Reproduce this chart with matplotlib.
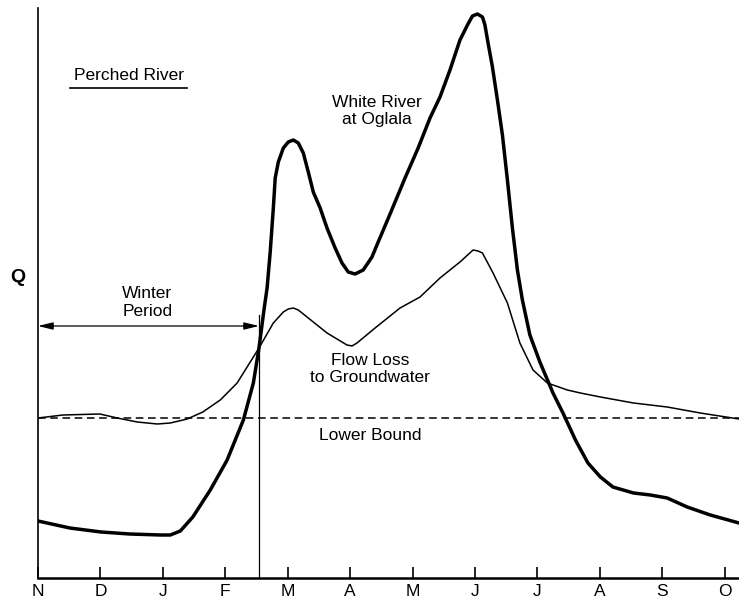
import numpy as np
import matplotlib.pyplot as plt

plt.rcParams['font.family'] = ['Liberation Sans', 'DejaVu Sans']

# month tick labels (Nov .. Oct water year)
months = ['N', 'D', 'J', 'F', 'M', 'A', 'M', 'J', 'J', 'A', 'S', 'O']

# White River at Oglala (x in months from Nov, Q in relative units)
river_x = [0.00, 0.51, 1.01, 1.47, 1.96, 2.12, 2.28, 2.48, 2.76, 3.03, 3.29, 3.45,
           3.54, 3.62, 3.67, 3.72, 3.77, 3.80, 3.85, 3.93, 4.01, 4.09, 4.17, 4.25,
           4.33, 4.41, 4.52, 4.63, 4.76, 4.87, 4.97, 5.08, 5.21, 5.35, 5.45, 5.64,
           5.88, 6.09, 6.28, 6.44, 6.60, 6.76, 6.88, 6.96, 7.04, 7.12, 7.16, 7.21,
           7.28, 7.36, 7.44, 7.52, 7.60, 7.68, 7.76, 7.88, 8.04, 8.25, 8.41, 8.61,
           8.81, 9.01, 9.21, 9.54, 9.81, 10.08, 10.40, 10.77, 11.23]
river_q = [57, 50, 46, 44, 43, 43, 47, 61, 88, 118, 158, 195,
           230, 268, 290, 326, 370, 400, 416, 430, 436, 438, 435, 425,
           406, 386, 370, 350, 330, 315, 306, 304, 308, 321, 336, 364,
           400, 430, 460, 481, 508, 538, 553, 562, 564, 561, 553, 535,
           511, 478, 443, 398, 350, 308, 278, 243, 216, 185, 165, 138,
           115, 101, 91, 85, 83, 80, 71, 63, 55]

# flow loss to groundwater
loss_x = [0.00, 0.40, 0.99, 1.27, 1.59, 1.91, 2.12, 2.39, 2.64, 2.92, 3.19, 3.40,
          3.54, 3.77, 3.93, 4.01, 4.09, 4.17, 4.31, 4.63, 4.87, 4.95, 5.03, 5.11,
          5.40, 5.80, 6.12, 6.44, 6.76, 6.97, 7.05, 7.12, 7.29, 7.52, 7.72, 7.93,
          8.16, 8.48, 8.69, 9.01, 9.54, 10.08, 10.61, 11.23]
loss_q = [160, 163, 164, 160, 156, 154, 155, 159, 166, 178, 195, 216,
          230, 255, 266, 269, 270, 268, 261, 245, 236, 233, 232, 235,
          250, 270, 281, 300, 316, 328, 327, 325, 305, 275, 235, 208,
          195, 188, 185, 181, 175, 171, 165, 159]

lower_bound = 160
winter_end = 3.54
winter_arrow_q = 252
winter_line_top = 263

fig = plt.figure(figsize=(7.39, 6.04), dpi=100)
fig.patch.set_color('white')
ax = fig.add_axes([38/739, 26/604, 701/739, 570/604])

ax.plot(river_x, river_q, color='black', lw=2.5, solid_joinstyle='round', solid_capstyle='round')
ax.plot(loss_x, loss_q, color='black', lw=1.1, solid_joinstyle='round')
ax.axhline(lower_bound, color='black', lw=1.1, ls=(0, (5, 3)))

# winter period
ax.plot([winter_end, winter_end], [0, winter_line_top], color='black', lw=0.9)
ax.annotate('', xy=(0, winter_arrow_q), xytext=(winter_end, winter_arrow_q),
            arrowprops=dict(arrowstyle='<|-|>,head_length=0.9,head_width=0.22',
                            color='black', lw=0.9, shrinkA=0, shrinkB=0))
ax.text(1.75, 275, 'Winter\nPeriod', ha='center', va='center', fontsize=12.5, linespacing=1.25)

ax.text(1.46, 502, 'Perched River', ha='center', va='center', fontsize=12.5)
ax.plot([0.51, 2.39], [490, 490], color='black', lw=1.2)

ax.text(5.43, 467, 'White River\nat Oglala', ha='center', va='center', fontsize=12.5, linespacing=1.2)
ax.text(5.32, 209, 'Flow Loss\nto Groundwater', ha='center', va='center', fontsize=12.5, linespacing=1.2)
ax.text(5.32, 143, 'Lower Bound', ha='center', va='center', fontsize=12.5)

fig.text(18/739, 1 - 278/604, 'Q', ha='center', va='center', fontsize=14, fontweight='bold')

ax.set_xlim(0, 11.23)
ax.set_ylim(0, 570)
ax.set_xticks(range(len(months)))
ax.set_xticklabels(months, fontsize=12.5)
ax.set_yticks([])
ax.tick_params(axis='x', direction='in', length=8, width=1.2, pad=4)
ax.spines['top'].set_visible(False)
ax.spines['right'].set_visible(False)
ax.spines['left'].set_linewidth(1.2)
ax.spines['bottom'].set_linewidth(1.8)

plt.savefig('out.png', dpi=100)
